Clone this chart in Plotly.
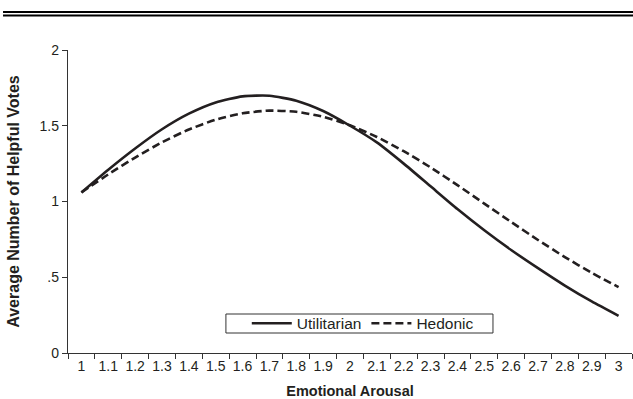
import plotly.graph_objects as go

arousal = ["1", "1.1", "1.2", "1.3", "1.4", "1.5", "1.6", "1.7", "1.8", "1.9", "2",
           "2.1", "2.2", "2.3", "2.4", "2.5", "2.6", "2.7", "2.8", "2.9", "3"]
utilitarian = [1.06, 1.21, 1.35, 1.477, 1.58, 1.654, 1.694, 1.698, 1.665, 1.597, 1.50,
               1.39, 1.25, 1.10, 0.95, 0.81, 0.68, 0.56, 0.445, 0.34, 0.245]
hedonic = [1.06, 1.179, 1.29, 1.391, 1.475, 1.54, 1.582, 1.60, 1.592, 1.559, 1.503,
           1.426, 1.332, 1.225, 1.108, 0.986, 0.865, 0.746, 0.633, 0.529, 0.435]
y_ticks = [0, 0.5, 1, 1.5, 2]
y_ticktext = ["0", ".5", "1", "1.5", "2"]

FONT = "Liberation Sans, Arial, Helvetica, sans-serif"
INK = "#231f20"

fig = go.Figure()
fig.add_trace(go.Scatter(x=arousal, y=utilitarian, name="Utilitarian", mode="lines",
                         line=dict(color=INK, width=2.6, shape="spline", smoothing=0.6)))
fig.add_trace(go.Scatter(x=arousal, y=hedonic, name="Hedonic", mode="lines",
                         line=dict(color=INK, width=2.6, dash="8px,4px", shape="spline", smoothing=0.6)))

fig.update_layout(
    width=633, height=399,
    margin=dict(l=68, r=1, t=50, b=46),
    paper_bgcolor="white", plot_bgcolor="white",
    font=dict(family=FONT, size=14, color=INK),
    showlegend=True,
    legend=dict(orientation="h", x=0.317, y=0.097, xanchor="left", yanchor="middle",
                borderwidth=0, bgcolor="rgba(0,0,0,0)",
                font=dict(size=15.5, family=FONT, color=INK),
                itemwidth=40, tracegroupgap=0),
    xaxis=dict(type="category", range=[-0.5, 20.5], tickson="boundaries", tickangle=0,
               automargin=False,
               ticks="outside", ticklen=5, tickwidth=1.2, tickcolor="#333",
               showline=True, linecolor="#333", linewidth=1.3, showgrid=False, zeroline=False,
               tickfont=dict(size=14, family=FONT, color=INK),
               title=dict(text="<b>Emotional Arousal</b>", font=dict(size=14.5, family=FONT, color=INK))),
    yaxis=dict(range=[0, 2], tickvals=y_ticks, ticktext=y_ticktext, automargin=False,
               ticks="outside", ticklen=5, tickwidth=1.2, tickcolor="#333",
               showline=True, linecolor="#333", linewidth=1.3, showgrid=False, zeroline=False,
               tickfont=dict(size=14, family=FONT, color=INK),
               title=dict(text="<b>Average Number of Helpful Votes</b>", font=dict(size=16, family=FONT, color=INK))),
    shapes=[
        dict(type="line", xref="paper", yref="paper", x0=-0.1152, x1=1.002, y0=1.1254, y1=1.1254,
             line=dict(color="black", width=2.2)),
        dict(type="line", xref="paper", yref="paper", x0=-0.1152, x1=1.002, y0=1.1139, y1=1.1139,
             line=dict(color="black", width=2.2)),
        dict(type="rect", xref="paper", yref="paper", x0=0.280, x1=0.7535, y0=0.066, y1=0.1287,
             line=dict(color="#333", width=1), fillcolor="white", layer="below"),
    ],
)

fig.write_html("out.html", config={"displayModeBar": False},
               post_script="document.body.style.margin='0';")
